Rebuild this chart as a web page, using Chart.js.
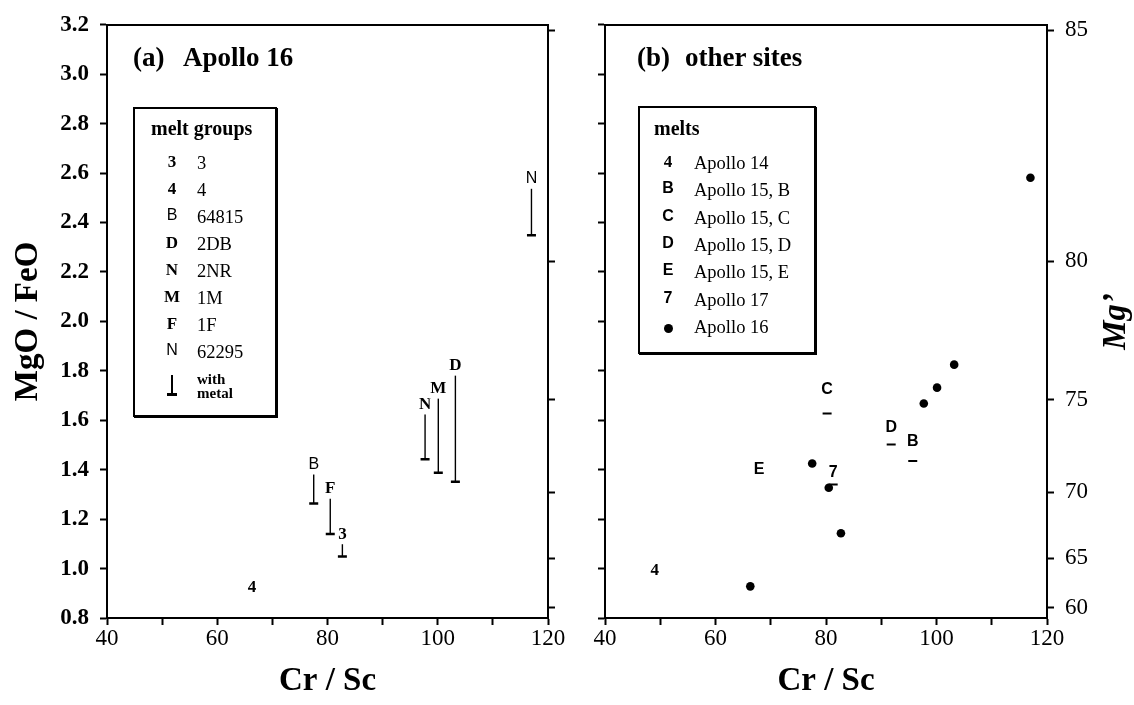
<!DOCTYPE html>
<html>
<head>
<meta charset="utf-8">
<title>Cr/Sc vs MgO/FeO — lunar impact melts</title>
<script src="https://cdn.jsdelivr.net/npm/chart.js@4.4.1/dist/chart.umd.min.js"></script>
<style>
  html, body { margin: 0; background: #fff; }
  #page { position: relative; width: 1134px; height: 705px; overflow: hidden;
          font-family: 'Liberation Serif', 'Times New Roman', serif; color: #000; }
  canvas { position: absolute; top: 0; }
  #cLeft { left: 0; }
  #cRight { left: 580px; }
  .ptitle { position: absolute; top: 44px; font-weight: bold; font-size: 27px; line-height: 27px; white-space: pre; }
  .legend { position: absolute; box-sizing: border-box; border: 2px solid #000;
            box-shadow: 1px 1px 0 #000; background: #fff; }
  .legend span { position: absolute; line-height: 22px; height: 22px; white-space: pre; }
  .legend .ltitle { font-weight: bold; font-size: 20px; }
  .legend .sym { width: 20px; text-align: center; }
  .legend .txt { font-size: 18.5px; }
  .legend .note { font-weight: bold; font-size: 15px; line-height: 14px; height: auto; }
  .dot { display: inline-block; width: 9px; height: 9px; border-radius: 50%; background: #000; vertical-align: middle; }
  .tstem { position: absolute; background: #000; }
</style>
</head>
<body>
<div id="page">
  <canvas id="cLeft" width="580" height="705"></canvas>
  <canvas id="cRight" width="554" height="705"></canvas>
  <div class="ptitle" style="left:133px">(a)</div>
  <div class="ptitle" style="left:183px">Apollo 16</div>
  <div class="ptitle" style="left:637px">(b)</div>
  <div class="ptitle" style="left:685px">other sites</div>
  <div id="legLeft" class="legend" style="left:133px;top:107px;width:144px;height:310px"></div>
  <div id="legRight" class="legend" style="left:638px;top:106px;width:178px;height:248px"></div>
</div>
<script>
// ---------- data ----------
// Apollo 16 melt groups: label sits on the melt value, the tie goes down to the value with metal.
const groupNames   = ['3', '4', '64815', '2DB', '2NR', '1M', '1F', '62295'];
const groupSymbols = ['3', '4', 'B', 'D', 'N', 'M', 'F', 'N'];
const groupCrSc    = [82.7, 66.3, 77.5, 103.2, 97.7, 100.1, 80.5, 117.0];
const groupMelt    = [1.143, 0.928, 1.425, 1.825, 1.668, 1.732, 1.327, 2.581];
const groupMetal   = [1.049, null, 1.263, 1.351, 1.442, 1.388, 1.140, 2.349];

// Melts from other sites
const siteNames   = ['Apollo 14', 'Apollo 15, B', 'Apollo 15, C', 'Apollo 15, D', 'Apollo 15, E', 'Apollo 17'];
const siteSymbols = ['4', 'B', 'C', 'D', 'E', '7'];
const siteCrSc    = [49.0, 95.7, 80.2, 91.8, 67.9, 81.3];
const siteMelt    = [0.996, 1.516, 1.727, 1.576, 1.404, 1.391];
const siteMetal   = [null, 1.435, 1.627, 1.502, null, 1.340];

// Axes
const crScTicks  = [40, 50, 60, 70, 80, 90, 100, 110, 120];
const crScLabels = [40, 60, 80, 100, 120];
const ratioTicks = [0.8, 1.0, 1.2, 1.4, 1.6, 1.8, 2.0, 2.2, 2.4, 2.6, 2.8, 3.0, 3.2];
const mgTicks    = [60, 65, 70, 75, 80, 85];

// Mg' (molar 100·Mg/(Mg+Fe)) expressed as an MgO/FeO weight ratio
const mgToRatio = (m) => (m / (100 - m)) * (40.30 / 71.85);

// ---------- styles (kept apart from the data) ----------
const SANS_GROUPS = new Set(['64815', '62295']);
const SERIF_SITES = new Set(['Apollo 14']);
const groupFont = (name, size) =>
  (SANS_GROUPS.has(name) ? `${size - 1}px "Liberation Sans"` : `bold ${size}px "Liberation Serif"`);
const siteFont = (name, size) =>
  (SERIF_SITES.has(name) ? `bold ${size}px "Liberation Serif"` : `bold ${size - 1}px "Liberation Sans"`);

Chart.defaults.font.family = '"Liberation Serif", "Times New Roman", serif';
Chart.defaults.color = '#000';

const TICK_FONT = { size: 23 };
const TITLE_FONT = { size: 33, weight: 'bold' };

// Text symbols drawn on their data point, with a white knock-out so the tie starts below the letter.
const symbolLabels = {
  id: 'symbolLabels',
  afterDatasetsDraw(chart) {
    const ctx = chart.ctx;
    chart.data.datasets.forEach((ds, di) => {
      if (!ds.symbols) return;
      chart.getDatasetMeta(di).data.forEach((pt, i) => {
        ctx.save();
        ctx.font = ds.symbolFonts[i];
        const w = ctx.measureText(ds.symbols[i]).width;
        ctx.fillStyle = '#fff';
        ctx.fillRect(pt.x - w / 2 - 1, pt.y - 11, w + 2, 22);
        ctx.fillStyle = '#000';
        ctx.textAlign = 'center';
        ctx.textBaseline = 'middle';
        ctx.fillText(ds.symbols[i], pt.x, pt.y + 1);
        ctx.restore();
      });
    });
  },
};

// Chart.js puts right-hand titles top-to-bottom; the figure reads bottom-to-top.
const mgTitle = {
  id: 'mgTitle',
  afterDraw(chart) {
    const s = chart.scales.mg;
    if (!chart.options.plugins.mgTitle.show) return;
    const ctx = chart.ctx;
    ctx.save();
    ctx.translate(s.right - 18, (s.top + s.bottom) / 2);
    ctx.rotate(-Math.PI / 2);
    ctx.font = 'italic bold 33px "Liberation Serif"';
    ctx.textAlign = 'center';
    ctx.textBaseline = 'middle';
    ctx.fillText('Mg\u2019', 0, 0);
    ctx.restore();
  },
};

function panelOptions(isLeft) {
  return {
    responsive: false,
    animation: false,
    events: [],
    layout: { padding: { top: 21 } },
    plugins: {
      legend: { display: false },
      tooltip: { enabled: false },
      mgTitle: { show: !isLeft },
    },
    scales: {
      x: {
        type: 'linear', position: 'bottom', min: 40, max: 120,
        afterBuildTicks: (s) => { s.ticks = crScTicks.map((value) => ({ value })); },
        afterFit: (s) => { s.height = 87; },
        border: { color: '#000', width: 2 },
        grid: { drawOnChartArea: false, color: '#000', tickLength: 7, tickWidth: 2 },
        ticks: {
          autoSkip: false, maxRotation: 0, padding: 0, font: TICK_FONT,
          callback: (v) => (crScLabels.includes(v) ? String(v) : ''),
        },
        title: { display: true, text: 'Cr / Sc', font: TITLE_FONT, padding: { top: 0, bottom: 4 } },
      },
      xTop: {
        type: 'linear', position: 'top', min: 40, max: 120,
        afterFit: (s) => { s.height = 0; },
        border: { color: '#000', width: 2 },
        grid: { display: false, drawTicks: false },
        ticks: { display: false },
      },
      y: {
        type: 'linear', position: 'left', min: 0.8, max: 3.2,
        afterBuildTicks: (s) => { s.ticks = ratioTicks.map((value) => ({ value })); },
        afterFit: (s) => { s.width = isLeft ? 107 : 25; },
        border: { color: '#000', width: 2 },
        grid: { drawOnChartArea: false, color: '#000', tickLength: 7, tickWidth: 2 },
        ticks: {
          display: isLeft, padding: 11, font: { size: 23, weight: 'bold' },
          callback: (v) => v.toFixed(1),
        },
        title: { display: isLeft, text: 'MgO / FeO', font: TITLE_FONT, padding: { top: 9, bottom: 0 } },
      },
      mg: {
        type: 'linear', position: 'right', min: 0.8, max: 3.2,
        afterBuildTicks: (s) => { s.ticks = mgTicks.map((m) => ({ value: mgToRatio(m) })); },
        afterFit: (s) => { s.width = isLeft ? 32 : 87; },
        border: { color: '#000', width: 2 },
        grid: { drawOnChartArea: false, color: '#000', tickLength: 7, tickWidth: 2 },
        ticks: { display: !isLeft, padding: 11, font: TICK_FONT, callback: (v, i) => String(mgTicks[i]) },
      },
    },
  };
}

const pts = (xs, ys) => xs.map((x, i) => ({ x, y: ys[i] })).filter((p) => p.y !== null);

// ---------- (a) Apollo 16 ----------
const ties = groupCrSc.flatMap((x, i) =>
  groupMetal[i] === null ? [] : [{ x, y: groupMelt[i] }, { x, y: groupMetal[i] }, { x, y: null }]);

new Chart(document.getElementById('cLeft'), {
  type: 'scatter',
  data: {
    datasets: [
      { label: 'tie', data: ties, showLine: true, spanGaps: false, borderColor: '#000', borderWidth: 1.4, pointRadius: 0 },
      { label: 'with metal', data: pts(groupCrSc, groupMetal), pointStyle: 'line', pointRadius: 4.5,
        borderColor: '#000', pointBorderColor: '#000', pointBorderWidth: 2.5 },
      { label: 'melt groups', data: pts(groupCrSc, groupMelt), pointRadius: 0,
        symbols: groupSymbols, symbolFonts: groupNames.map((n) => groupFont(n, 17)) },
    ],
  },
  options: panelOptions(true),
  plugins: [symbolLabels, mgTitle],
});

// ---------- (b) other sites ----------
new Chart(document.getElementById('cRight'), {
  type: 'scatter',
  data: {
    datasets: [
      { label: 'Apollo 16', data: pts(groupCrSc, groupMelt), pointRadius: 4.3,
        backgroundColor: '#000', borderColor: '#000', pointBorderWidth: 0 },
      { label: 'with metal', data: pts(siteCrSc, siteMetal), pointStyle: 'line', pointRadius: 4.5,
        borderColor: '#000', pointBorderColor: '#000', pointBorderWidth: 2 },
      { label: 'melts', data: pts(siteCrSc, siteMelt), pointRadius: 0,
        symbols: siteSymbols, symbolFonts: siteNames.map((n) => siteFont(n, 17)) },
    ],
  },
  options: panelOptions(false),
  plugins: [symbolLabels, mgTitle],
});

// ---------- legends (HTML boxes inside the plots) ----------
function span(parent, cls, text, style) {
  const s = document.createElement('span');
  s.className = cls;
  if (text) s.textContent = text;
  Object.assign(s.style, style);
  parent.appendChild(s);
  return s;
}

function fillLegend(box, cfg) {
  span(box, 'ltitle', cfg.title, { left: cfg.titleLeft + 'px', top: cfg.titleY - 11 + 'px' });
  cfg.rows.forEach((r, i) => {
    const top = cfg.rowY + i * cfg.rowStep - 11;
    const sym = span(box, 'sym', r.dot ? '' : r.symbol, {
      left: cfg.symX - 10 + 'px', top: top + 'px', font: r.font || '',
    });
    if (r.dot) sym.innerHTML = '<i class="dot"></i>';
    span(box, 'txt', r.text, { left: cfg.textX + 'px', top: top + 'px' });
  });
}

const legLeft = document.getElementById('legLeft');
fillLegend(legLeft, {
  title: 'melt groups', titleLeft: 16, titleY: 19,
  rowY: 54, rowStep: 27, symX: 37, textX: 62,
  rows: groupNames.map((n, i) => ({ symbol: groupSymbols[i], text: n, font: groupFont(n, 17) })),
});
// "with metal" key: a stem with a foot
const keyY = 54 + 8 * 27;
span(legLeft, 'tstem', '', { left: '36px', top: keyY - 4 + 'px', width: '1.5px', height: '20px' });
span(legLeft, 'tstem', '', { left: '32px', top: keyY + 14 + 'px', width: '10px', height: '2.5px' });
const note = span(legLeft, 'note', '', { left: '62px', top: keyY - 7 + 'px' });
note.innerHTML = 'with<br>metal';

fillLegend(document.getElementById('legRight'), {
  title: 'melts', titleLeft: 14, titleY: 20,
  rowY: 55, rowStep: 27.3, symX: 28, textX: 54,
  rows: siteNames.map((n, i) => ({ symbol: siteSymbols[i], text: n, font: siteFont(n, 17) }))
    .concat([{ dot: true, text: 'Apollo 16' }]),
});
</script>
</body>
</html>
